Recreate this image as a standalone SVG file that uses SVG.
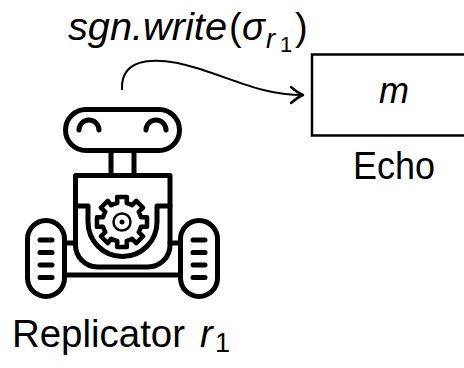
<svg xmlns="http://www.w3.org/2000/svg" width="464" height="368" viewBox="0 0 464 368">
  <style>
    .ln { fill: none; stroke: #000; stroke-width: 5; stroke-linecap: round; stroke-linejoin: round; }
    .txt { font-family: "Liberation Sans", Arial, sans-serif; fill: #000; }
    .it { font-style: italic; }
    .conn { fill: none; stroke: #000; stroke-width: 2; }
  </style>
  <defs>
    <marker id="tip" markerUnits="userSpaceOnUse" markerWidth="30" markerHeight="30" refX="0" refY="0" viewBox="-15 -15 30 30" orient="auto" overflow="visible">
      <path d="M -12,-8 Q -5,-2 0,0 Q -5,2 -12,8" fill="none" stroke="#000" stroke-width="2.5" stroke-linecap="round" stroke-linejoin="round"/>
    </marker>
    <g id="bars">
      <line x1="-6" y1="0" x2="6" y2="0"/>
      <line x1="-6" y1="12.5" x2="6" y2="12.5"/>
      <line x1="-6" y1="25" x2="6" y2="25"/>
      <line x1="-6" y1="37.5" x2="6" y2="37.5"/>
    </g>
  </defs>

  <rect width="464" height="368" fill="#fff"/>

  <!-- replicator robot -->
  <g id="replicator">
    <g class="ln">
      <!-- head and eyes -->
      <rect x="65.5" y="109.5" width="114" height="41" rx="20.5"/>
      <path d="M 79,130 A 10 10 0 0 1 99,130"/>
      <path d="M 146,130 A 10 10 0 0 1 166,130"/>
      <!-- neck -->
      <line x1="111" y1="151" x2="111" y2="175"/>
      <line x1="134" y1="151" x2="134" y2="175"/>
      <!-- body -->
      <path d="M 75.5,175.5 H 170 V 245 A 22 22 0 0 1 148,267 H 97.5 A 22 22 0 0 1 75.5,245 Z"/>
      <path d="M 75.5,206 H 88 V 222 A 34.5 34.5 0 0 0 157,222 V 206 H 170"/>
      <!-- wheels and axle -->
      <rect x="27.5" y="220.5" width="37" height="76" rx="18.5"/>
      <rect x="180.5" y="220.5" width="37" height="76" rx="18.5"/>
      <line x1="64.5" y1="243" x2="75.5" y2="243"/>
      <line x1="170" y1="243" x2="180.5" y2="243"/>
      <line x1="64.5" y1="275" x2="180.5" y2="275"/>
      <use href="#bars" x="46" y="240"/>
      <use href="#bars" x="199" y="240"/>
    </g>
    <!-- gear -->
    <path fill="none" stroke="#000" stroke-width="4.5" stroke-linejoin="round" d="M 117.28,203.08 L 117.13,196.97 L 126.87,196.97 L 126.72,203.08 A 19.5 19.5 0 0 1 132.04,205.28 L 136.26,200.86 L 143.14,207.74 L 138.72,211.96 A 19.5 19.5 0 0 1 140.92,217.28 L 147.03,217.13 L 147.03,226.87 L 140.92,226.72 A 19.5 19.5 0 0 1 138.72,232.04 L 143.14,236.26 L 136.26,243.14 L 132.04,238.72 A 19.5 19.5 0 0 1 126.72,240.92 L 126.87,247.03 L 117.13,247.03 L 117.28,240.92 A 19.5 19.5 0 0 1 111.28,238.72 L 107.74,243.14 L 100.86,236.26 L 105.28,232.04 A 19.5 19.5 0 0 1 103.08,226.72 L 96.97,226.87 L 96.97,217.13 L 103.08,217.28 A 19.5 19.5 0 0 1 105.28,211.96 L 100.86,207.74 L 107.74,200.86 L 111.28,205.28 A 19.5 19.5 0 0 1 117.28,203.08 Z"/>
    <circle cx="122" cy="222" r="8.5" fill="none" stroke="#000" stroke-width="2.5"/>
    <circle cx="122" cy="222" r="2.5" fill="#000"/>
    <text class="txt" font-size="38" x="12" y="347" textLength="173" lengthAdjust="spacingAndGlyphs">Replicator</text>
    <text class="txt it" font-size="38" x="200" y="347">r</text>
    <text class="txt" font-size="27" x="215" y="352">1</text>
  </g>

  <!-- echo buffer -->
  <g id="echo">
    <rect x="312" y="54.5" width="164" height="81" fill="#fff" stroke="#000" stroke-width="2.5"/>
    <text class="txt it" font-size="36" x="394" y="103" text-anchor="middle">m</text>
    <text class="txt" font-size="38" x="394" y="179" text-anchor="middle" textLength="82" lengthAdjust="spacingAndGlyphs">Echo</text>
  </g>

  <!-- connectors -->
  <g id="connectors">
    <path class="conn" d="M 122,90 C 120,55 160,56 200,69 C 240,82 265,95 303,95" marker-end="url(#tip)"/>
    <g class="txt">
      <text class="it" font-size="38" x="68" y="40" textLength="159" lengthAdjust="spacingAndGlyphs">sgn.write</text>
      <text font-size="38" x="229" y="40">(</text>
      <text class="it" font-size="38" x="242" y="40">σ</text>
      <text class="it" font-size="27" x="266" y="48">r</text>
      <text font-size="22" x="280" y="52">1</text>
      <text font-size="38" x="295" y="40">)</text>
    </g>
  </g>
</svg>
